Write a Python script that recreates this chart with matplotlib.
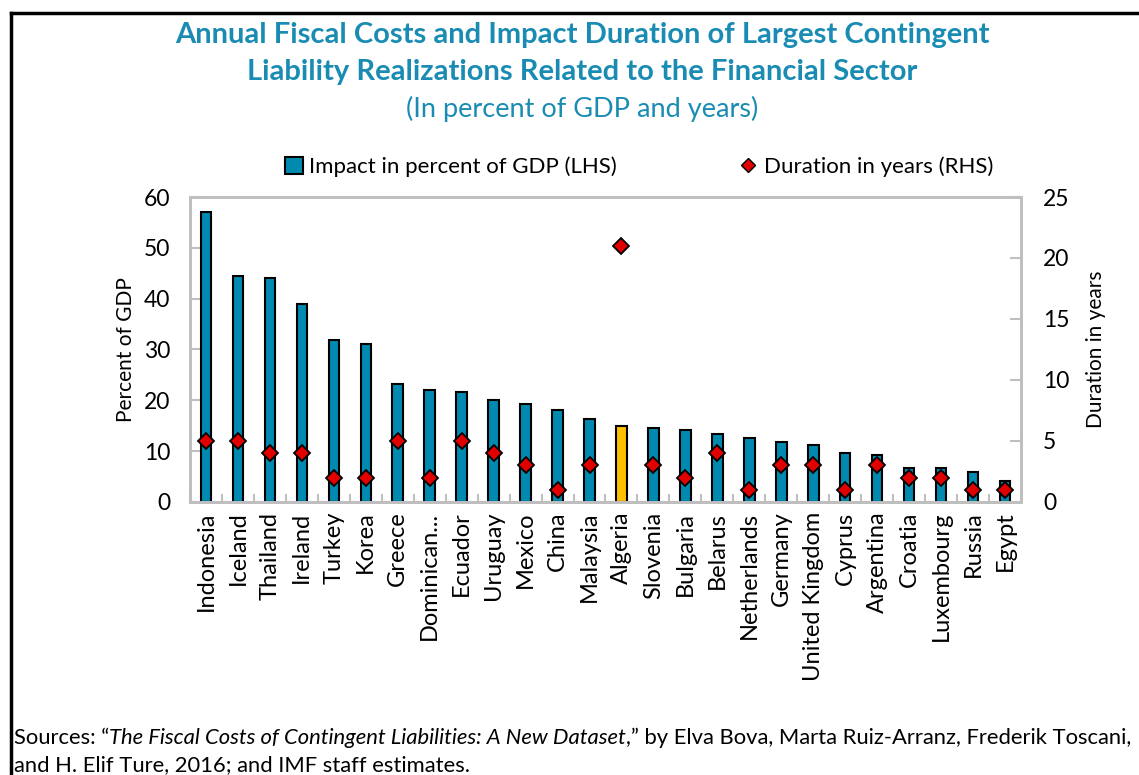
import matplotlib
matplotlib.use("Agg")
import matplotlib.pyplot as plt
from matplotlib.lines import Line2D
from matplotlib.patches import Patch
import numpy as np

plt.rcParams['font.family'] = ['Lato', 'DejaVu Sans']

countries = ['Indonesia', 'Iceland', 'Thailand', 'Ireland', 'Turkey', 'Korea', 'Greece',
             'Dominican...', 'Ecuador', 'Uruguay', 'Mexico', 'China', 'Malaysia', 'Algeria',
             'Slovenia', 'Bulgaria', 'Belarus', 'Netherlands', 'Germany', 'United Kingdom',
             'Cyprus', 'Argentina', 'Croatia', 'Luxembourg', 'Russia', 'Egypt']
impact = [57.1, 44.5, 44.1, 38.9, 31.8, 31.0, 23.2, 22.0, 21.6, 20.0, 19.2, 18.0, 16.4, 14.9,
          14.5, 14.1, 13.3, 12.5, 11.7, 11.3, 9.7, 9.3, 6.6, 6.6, 5.8, 4.2]
duration = [5, 5, 4, 4, 2, 2, 5, 2, 5, 4, 3, 1, 3, 21, 3, 2, 4, 1, 3, 3, 1, 3, 2, 2, 1, 1]
highlight = 'Algeria'

teal = '#008AB0'
gold = '#FFC000'
red = '#E00000'
title_col = '#1A8CB4'
grey = '#BFBFBF'

fig = plt.figure(figsize=(11.39, 7.75), dpi=100)
ax = fig.add_axes([0.1668, 0.3523, 0.7296, 0.3935])
ax2 = ax.twinx()

x = np.arange(len(countries))
colors = [gold if c == highlight else teal for c in countries]
ax.bar(x, impact, width=0.33, color=colors, edgecolor='black', linewidth=1.5, zorder=2)
ax2.plot(x, duration, linestyle='none', marker='D', markersize=8.5,
         markerfacecolor=red, markeredgecolor='black', markeredgewidth=1.3, zorder=3)

ax.set_xlim(-0.5, len(countries) - 0.5)
ax.set_ylim(0, 60)
ax.set_yticks(range(0, 61, 10))
ax2.set_ylim(0, 25)
ax2.set_yticks(range(0, 26, 5))

ax.set_xticks(x)
ax.set_xticklabels(countries, rotation=90, fontsize=17)
ax.set_xticks(np.arange(-0.5, len(countries), 1), minor=True)
ax.tick_params(axis='x', which='major', length=0, pad=7)
ax.tick_params(axis='x', which='minor', direction='in', length=6, color=grey, width=1.5)
ax.tick_params(axis='y', direction='in', length=8, color=grey, width=1.5, labelsize=16.5, pad=14)
ax2.tick_params(axis='y', direction='in', length=8, color=grey, width=1.5, labelsize=16.5, pad=16)

for a in (ax, ax2):
    for s in a.spines.values():
        s.set_color(grey)
        s.set_linewidth(2)

ax.set_ylabel('Percent of GDP', fontsize=15, labelpad=6)
ax2.set_ylabel('Duration in years', fontsize=15, labelpad=12)

fig.text(0.511, 0.955, 'Annual Fiscal Costs and Impact Duration of Largest Contingent',
         ha='center', va='center', fontsize=21, fontweight='bold', color=title_col)
fig.text(0.511, 0.907, 'Liability Realizations Related to the Financial Sector',
         ha='center', va='center', fontsize=21, fontweight='bold', color=title_col)
fig.text(0.511, 0.860, '(In percent of GDP and years)',
         ha='center', va='center', fontsize=19.5, color=title_col)

handles = [Patch(facecolor=teal, edgecolor='black', linewidth=1.5, label='Impact in percent of GDP (LHS)'),
           Line2D([], [], linestyle='none', marker='D', markersize=7, markerfacecolor=red,
                  markeredgecolor='black', markeredgewidth=1, label='Duration in years (RHS)')]
fig.legend(handles=handles, loc='center', bbox_to_anchor=(0.561, 0.785), ncol=2, frameon=False,
           fontsize=16, handlelength=0.8, handleheight=0.8, handletextpad=0.3, columnspacing=5.5)

# footnote, pieces laid out one after another so the title can be italic
renderer = fig.canvas.get_renderer()
pieces = [('Sources: \u201c', 'normal'),
          ('The Fiscal Costs of Contingent Liabilities: A New Dataset', 'italic'),
          (',\u201d by Elva Bova, Marta Ruiz-Arranz, Frederik Toscani,', 'normal')]
xpos = 0.012
for txt, st in pieces:
    t = fig.text(xpos, 0.048, txt, ha='left', va='center', fontsize=15.8, style=st)
    bb = t.get_window_extent(renderer)
    xpos += bb.width / fig.bbox.width
fig.text(0.012, 0.013, 'and H. Elif Ture, 2016; and IMF staff estimates.',
         ha='left', va='center', fontsize=15.8)

# outer border (top and left only visible)
fig.add_artist(Line2D([0.0097, 1.0], [0.983, 0.983], color='black', linewidth=2.5, transform=fig.transFigure))
fig.add_artist(Line2D([0.0097, 0.0097], [0.0, 0.983], color='black', linewidth=2.5, transform=fig.transFigure))

fig.savefig('out.png', dpi=100)
